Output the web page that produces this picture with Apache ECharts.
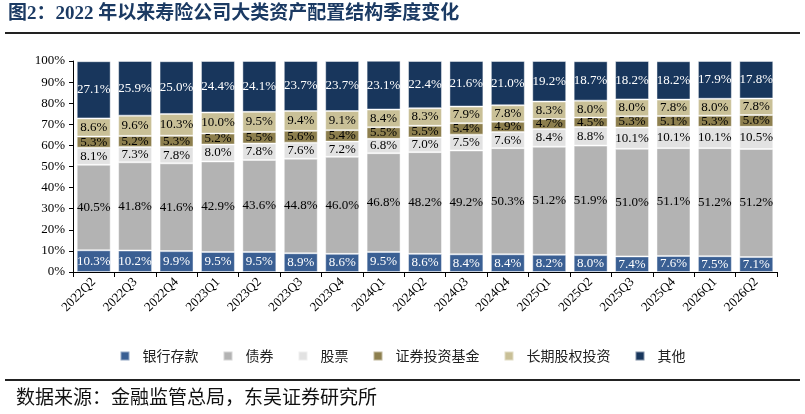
<!DOCTYPE html>
<html>
<head>
<meta charset="utf-8">
<script src="https://cdn.jsdelivr.net/npm/echarts@6/dist/echarts.min.js"></script>
<style>
html, body { margin: 0; padding: 0; background: #fff; }
#main { width: 805px; height: 414px; }
</style>
</head>
<body>
<div id="main"></div>
<script>
var quarters = ['2022Q2', '2022Q3', '2022Q4', '2023Q1', '2023Q2', '2023Q3', '2023Q4', '2024Q1', '2024Q2',
	'2024Q3', '2024Q4', '2025Q1', '2025Q2', '2025Q3', '2025Q4', '2026Q1', '2026Q2'];

var bankDeposit = [10.3, 10.2, 9.9, 9.5, 9.5, 8.9, 8.6, 9.5, 8.6, 8.4, 8.4, 8.2, 8.0, 7.4, 7.6, 7.5, 7.1];
var bonds = [40.5, 41.8, 41.6, 42.9, 43.6, 44.8, 46.0, 46.8, 48.2, 49.2, 50.3, 51.2, 51.9, 51.0, 51.1, 51.2, 51.2];
var stocks = [8.1, 7.3, 7.8, 8.0, 7.8, 7.6, 7.2, 6.8, 7.0, 7.5, 7.6, 8.4, 8.8, 10.1, 10.1, 10.1, 10.5];
var funds = [5.3, 5.2, 5.3, 5.2, 5.5, 5.6, 5.4, 5.5, 5.5, 5.4, 4.9, 4.7, 4.5, 5.3, 5.1, 5.3, 5.6];
var equityInv = [8.6, 9.6, 10.3, 10.0, 9.5, 9.4, 9.1, 8.4, 8.3, 7.9, 7.8, 8.3, 8.0, 8.0, 7.8, 8.0, 7.8];
var others = [27.1, 25.9, 25.0, 24.4, 24.1, 23.7, 23.7, 23.1, 22.4, 21.6, 21.0, 19.2, 18.7, 18.2, 18.2, 17.9, 17.8];

var serif = '"Liberation Serif", "Times New Roman", "Noto Sans CJK SC", serif';
var cjk = '"Noto Sans CJK SC", sans-serif';

var seriesDefs = [
	{name: '银行存款', data: bankDeposit, color: '#3A5F93', label: '#ffffff'},
	{name: '债券', data: bonds, color: '#B3B3B3', label: '#000000'},
	{name: '股票', data: stocks, color: '#E2E2E2', label: '#000000'},
	{name: '证券投资基金', data: funds, color: '#8D7F4E', label: '#000000'},
	{name: '长期股权投资', data: equityInv, color: '#C9C097', label: '#000000'},
	{name: '其他', data: others, color: '#18365C', label: '#ffffff'}
];

var chart = echarts.init(document.getElementById('main'));

chart.setOption({
	animation: false,
	backgroundColor: '#ffffff',
	graphic: [
		{
			type: 'text', left: 8, top: 5,
			style: {text: '图2：2022 年以来寿险公司大类资产配置结构季度变化', font: 'bold 19px ' + serif, fill: '#1B3A63'}
		},
		{type: 'rect', shape: {x: 5, y: 32, width: 795, height: 2}, style: {fill: '#222'}},
		{type: 'rect', shape: {x: 5, y: 379, width: 795, height: 2}, style: {fill: '#222'}},
		{
			type: 'text', left: 16, top: 387,
			style: {text: '数据来源：金融监管总局，东吴证券研究所', font: '19px ' + cjk, fill: '#111'}
		}
	],
	legend: {
		bottom: 46,
		left: 'center',
		itemWidth: 9,
		itemHeight: 9,
		itemGap: 24,
		icon: 'rect',
		textStyle: {fontFamily: cjk, fontSize: 14, color: '#222', padding: [0, 0, 0, 8]},
		data: seriesDefs.map(function (s) { return s.name; })
	},
	grid: {left: 73, right: 28, top: 61, bottom: 142},
	xAxis: {
		type: 'category',
		data: quarters,
		axisLine: {lineStyle: {color: '#000', width: 1}},
		axisTick: {show: true, alignWithLabel: false, length: 5, lineStyle: {color: '#000'}},
		axisLabel: {rotate: 45, interval: 0, fontFamily: serif, fontSize: 13, color: '#000', margin: 8}
	},
	yAxis: {
		type: 'value',
		min: 0,
		max: 100,
		interval: 10,
		splitLine: {show: false},
		axisLine: {show: true, lineStyle: {color: '#000'}},
		axisTick: {show: true, length: 4, lineStyle: {color: '#000'}},
		axisLabel: {formatter: '{value}%', fontFamily: serif, fontSize: 13, color: '#000', margin: 8}
	},
	series: seriesDefs.map(function (s) {
		return {
			name: s.name,
			type: 'bar',
			stack: 'total',
			barCategoryGap: '18%',
			data: s.data,
			itemStyle: {color: s.color, borderColor: 'rgba(255,255,255,0.45)', borderWidth: 1},
			label: {
				show: true,
				position: 'inside',
				fontFamily: serif,
				fontSize: 13,
				color: s.label,
				formatter: function (p) { return p.value.toFixed(1) + '%'; }
			}
		};
	})
});

window.addEventListener('resize', function () {
	chart.resize();
});
</script>
</body>
</html>
